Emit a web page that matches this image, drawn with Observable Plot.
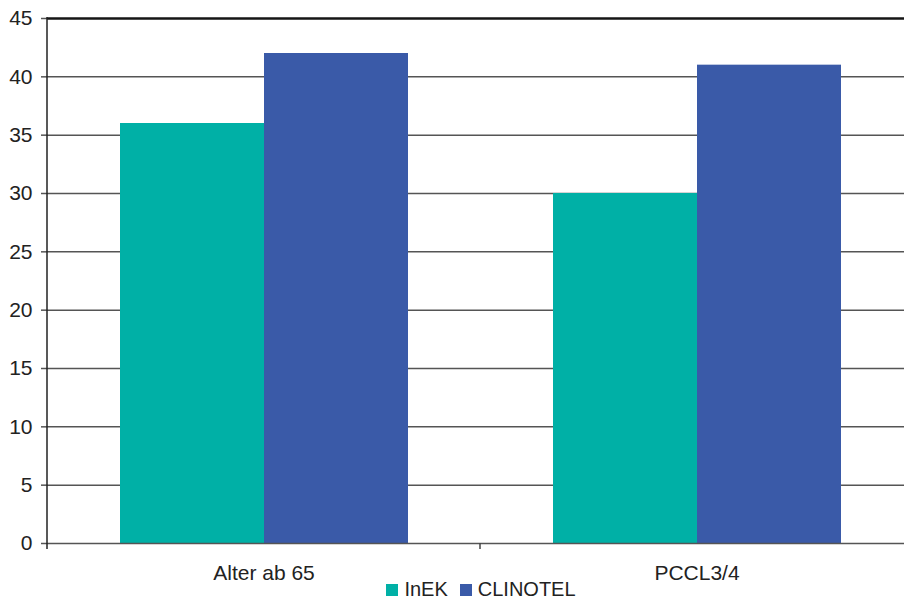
<!DOCTYPE html>
<html>
<head>
<meta charset="utf-8">
<script src="https://cdn.jsdelivr.net/npm/d3@7"></script>
<script src="https://cdn.jsdelivr.net/npm/@observablehq/plot@0.6"></script>
<style>
  html, body { margin: 0; padding: 0; background: #fff; }
  #chart { width: 904px; height: 601px; overflow: hidden; font-family: "Liberation Sans", Arial, Helvetica, sans-serif; }
  #chart svg { display: block; }
  .legend { display: flex; justify-content: center; align-items: center; height: 23px; margin-top: -6px; padding-left: 58px; font-size: 20px; color: #222; }
  .legend .item { display: flex; align-items: center; margin: 0 6px; }
  .legend .swatch { width: 12px; height: 12px; margin-right: 6px; }
</style>
</head>
<body>
<div id="chart"></div>
<script>
// Categories, series and values
const categories = ["Alter ab 65", "PCCL3/4"];
const seriesNames = ["InEK", "CLINOTEL"];
const inekValues = [36, 30];
const clinotelValues = [42, 41];
const yTicks = [0, 5, 10, 15, 20, 25, 30, 35, 40, 45];
const seriesColors = ["#00b0a6", "#3a5aa8"];

// Long-format table for the grouped bars
const rows = categories.flatMap((c, i) => [
  { category: c, series: seriesNames[0], value: inekValues[i] },
  { category: c, series: seriesNames[1], value: clinotelValues[i] }
]);

const plot = Plot.plot({
  width: 904,
  height: 584,
  marginTop: 18,
  marginBottom: 41,
  marginLeft: 47,
  marginRight: -9,
  style: { fontFamily: '"Liberation Sans", Arial, Helvetica, sans-serif', fontSize: "21px", color: "#222", background: "#fff" },
  fx: { domain: categories, padding: 0, label: null, axis: "bottom", tickSize: 0, tickPadding: 22 },
  x: { domain: seriesNames, paddingInner: 0, paddingOuter: 0.5, axis: null },
  y: { domain: [0, 45], ticks: yTicks, tickSize: 6, tickPadding: 9, label: null, tickFormat: d => String(d) },
  color: { domain: seriesNames, range: seriesColors },
  marks: [
    Plot.ruleY(yTicks.filter(t => t > 0 && t < 45), { stroke: "#555", strokeWidth: 1.5 }),
    Plot.barY(rows, { fx: "category", x: "series", y: "value", fill: "series" }),
    Plot.ruleY([45], { stroke: "#151515", strokeWidth: 2.5 }),
    Plot.ruleY([0], { stroke: "#555", strokeWidth: 1.5 })
  ]
});

// Vertical axis line and category boundary ticks, placed through the plot's scales
const svg = d3.select(plot.tagName.toLowerCase() === "svg" ? plot : plot.querySelector("svg"));
const ys = plot.scale("y");
const yScale = d3.scaleLinear(ys.domain, ys.range);
const fs = plot.scale("fx");
const fxScale = d3.scaleBand(fs.domain, fs.range).padding(0);
const edges = categories.map(c => fxScale(c)).concat([fxScale(categories[categories.length - 1]) + fxScale.bandwidth()]);
svg.append("line")
  .attr("x1", edges[0]).attr("x2", edges[0])
  .attr("y1", yScale(45) - 1).attr("y2", yScale(0) + 6)
  .attr("stroke", "#222").attr("stroke-width", 1.5);
svg.selectAll("line.cat-tick").data(edges.slice(1)).join("line")
  .attr("class", "cat-tick")
  .attr("x1", d => d).attr("x2", d => d)
  .attr("y1", yScale(0)).attr("y2", yScale(0) + 6)
  .attr("stroke", "#444").attr("stroke-width", 1.5);
svg.selectAll("g[aria-label='y-axis tick'] path, g[aria-label='y-axis'] path").attr("stroke", "#555").attr("stroke-width", 1.5);

const chart = document.getElementById("chart");
chart.appendChild(plot);

// Legend below the plot
const cs = plot.scale("color");
const legend = d3.select(chart).append("div").attr("class", "legend");
const items = legend.selectAll("div.item").data(cs.domain).join("div").attr("class", "item");
items.append("div").attr("class", "swatch").style("background", (d, i) => cs.range[i]);
items.append("span").text(d => d);
</script>
</body>
</html>
